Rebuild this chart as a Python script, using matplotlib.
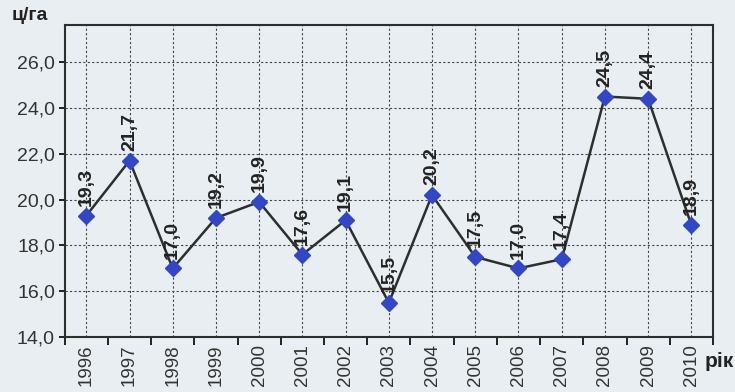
import matplotlib.pyplot as plt

plt.rcParams['font.family'] = ['Liberation Sans', 'DejaVu Sans']

years = ['1996', '1997', '1998', '1999', '2000', '2001', '2002', '2003',
         '2004', '2005', '2006', '2007', '2008', '2009', '2010']
yields = [19.3, 21.7, 17.0, 19.2, 19.9, 17.6, 19.1, 15.5,
          20.2, 17.5, 17.0, 17.4, 24.5, 24.4, 18.9]
y_ticks = [14, 16, 18, 20, 22, 24, 26]

bg = '#e8eef2'
fig = plt.figure(figsize=(7.35, 3.92), dpi=100, facecolor=bg)
ax = fig.add_axes([0.088, 0.14, 0.882, 0.795], facecolor=bg)

x = list(range(len(years)))
ax.plot(x, yields, color='#2b2f2e', linewidth=1.8, zorder=3)
ax.plot(x, yields, linestyle='none', marker='D', markersize=8,
        color='#3347c4', zorder=4)

for xi, v in zip(x, yields):
    ax.annotate(f'{v:.1f}'.replace('.', ','), (xi, v), xytext=(0, 7),
                textcoords='offset points', rotation=90, ha='center', va='bottom',
                fontsize=14, fontweight='bold', color='#222222', zorder=5)

ax.set_xlim(-0.5, len(years) - 0.5)
ax.set_ylim(14, 27.6)

ax.set_yticks(y_ticks)
ax.set_yticklabels([f'{t:.1f}'.replace('.', ',') for t in y_ticks], fontsize=14, color='#333333')
ax.set_xticks(x)
ax.set_xticklabels(years, rotation=90, fontsize=13.5, color='#333333')
ax.tick_params(axis='x', length=0, pad=5)
ax.tick_params(axis='y', length=4, width=1.2, pad=3)

# boundary tick marks between categories
ax.set_xticks([i - 0.5 for i in range(len(years) + 1)], minor=True)
ax.tick_params(axis='x', which='minor', length=6, width=1.2, direction='out')

for gy in y_ticks[1:]:
    ax.axhline(gy, color='#444444', linestyle=(0, (2, 2)), linewidth=0.8, zorder=1)
for gx in x:
    ax.axvline(gx, color='#444444', linestyle=(0, (2, 2)), linewidth=0.8, zorder=1)

for s in ax.spines.values():
    s.set_color('#2b2f2e')
    s.set_linewidth(1.5)

fig.text(0.016, 0.94, 'ц/га', fontsize=14, fontweight='bold', color='#222222', va='bottom')
fig.text(0.998, 0.077, 'рік', fontsize=15, fontweight='bold', color='#222222',
         ha='right', va='center')

fig.savefig('out.png', dpi=100, facecolor=bg)
